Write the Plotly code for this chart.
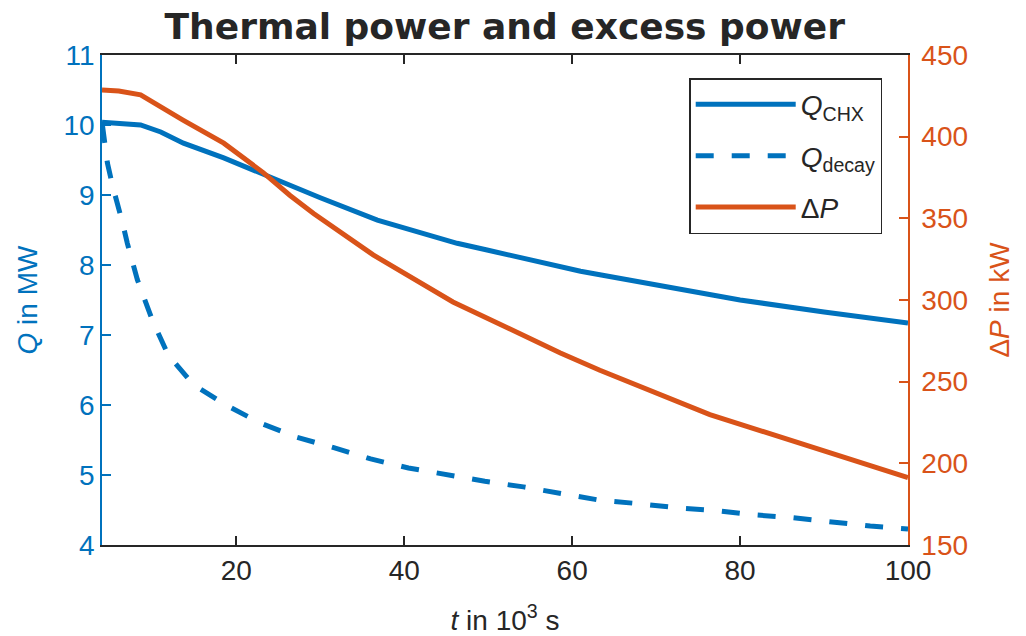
import plotly.graph_objects as go

# ---- data (t in 10^3 s) ----
t_chx = [4.0, 6.0, 8.6, 11.0, 13.7, 18.5, 23.2, 25.2, 30.0, 36.8, 40.0, 46.3,
         50.0, 58.9, 61.0, 63.3, 70.0, 76.4, 80.0, 90.0, 100.0]
q_chx = [10.04, 10.03, 10.0, 9.9, 9.74, 9.53, 9.29, 9.19, 8.96, 8.64, 8.53, 8.31,
         8.21, 7.96, 7.91, 7.86, 7.71, 7.57, 7.5, 7.33, 7.17]

t_dec = [4.05, 4.29, 4.64, 5.24, 5.83, 6.43, 7.02, 7.62, 8.21, 10.0, 11.9, 14.9,
         18.9, 22.9, 27.2, 31.6, 36.0, 40.5, 45.1, 49.6, 54.2, 58.8, 63.3, 67.9,
         72.6, 77.3, 81.8, 86.3, 90.9, 95.5, 100.0]
q_dec = [10.0, 9.74, 9.46, 9.14, 8.89, 8.61, 8.31, 8.04, 7.79, 7.21, 6.71, 6.29,
         5.99, 5.74, 5.54, 5.39, 5.23, 5.1, 5.0, 4.91, 4.83, 4.74, 4.64, 4.59,
         4.53, 4.49, 4.43, 4.39, 4.33, 4.27, 4.23]

t_dp = [4.0, 6.0, 8.6, 11.0, 13.7, 18.5, 23.2, 26.4, 29.2, 36.3, 45.8, 58.6,
        61.0, 63.3, 76.4, 81.2, 90.0, 100.0]
dp = [428.6, 428.0, 425.6, 418.0, 410.0, 396.0, 378.0, 364.0, 353.0, 327.6, 298.8,
      267.6, 262.0, 257.0, 229.8, 222.0, 207.6, 191.3]

x_ticks = [20, 40, 60, 80, 100]
yl_ticks = [4, 5, 6, 7, 8, 9, 10, 11]
yr_ticks = [150, 200, 250, 300, 350, 400, 450]

BLUE = "#0072BD"
ORANGE = "#D95319"
DARK = "#262626"
FONT = "Liberation Sans, Arial, Helvetica, sans-serif"

fig = go.Figure()
fig.add_trace(go.Scatter(x=t_chx, y=q_chx, mode="lines", name="<i>Q</i><sub>CHX</sub>",
                         legendgroup="a", line=dict(color=BLUE, width=5)))
fig.add_trace(go.Scatter(x=t_dec, y=q_dec, mode="lines", name="<i>Q</i><sub>decay</sub>",
                         legendgroup="b", line=dict(color=BLUE, width=5, dash="18px,18px")))
fig.add_trace(go.Scatter(x=t_dp, y=dp, mode="lines", name="Δ<i>P</i>", yaxis="y2",
                         legendgroup="c", line=dict(color=ORANGE, width=5)))

fig.update_layout(
    width=1026, height=636,
    margin=dict(l=102, r=118, t=55, b=91, autoexpand=False),
    paper_bgcolor="white", plot_bgcolor="white",
    font=dict(family=FONT, size=28, color=DARK),
    title=dict(text="<b>Thermal power and excess power</b>",
               font=dict(family="DejaVu Sans, sans-serif", size=36, color=DARK),
               x=0.492, xanchor="center", y=0.958, yanchor="middle"),
    xaxis=dict(range=[4, 100], tickvals=x_ticks, ticks="inside", ticklen=9,
               tickwidth=1.5, tickcolor=DARK, showline=True, linecolor=DARK,
               linewidth=1.5, mirror="ticks", showgrid=False, zeroline=False,
               automargin=False,
               tickfont=dict(size=28, color=DARK),
               title=dict(text="<i>t</i> in 10<sup>3</sup> s", font=dict(size=28, color=DARK),
                          standoff=26)),
    yaxis=dict(range=[4, 11], tickvals=yl_ticks, ticks="inside", ticklen=9,
               tickwidth=1.5, tickcolor=BLUE, showline=True, linecolor=BLUE,
               linewidth=1.5, showgrid=False, zeroline=False, automargin=False,
               tickfont=dict(size=28, color=BLUE),
               title=dict(text="<i>Q</i> in MW", font=dict(size=28, color=BLUE),
                          standoff=18)),
    yaxis2=dict(range=[150, 450], tickvals=yr_ticks, ticks="inside", ticklen=9,
                tickwidth=1.5, tickcolor=ORANGE, showline=True, linecolor=ORANGE,
                linewidth=1.5, showgrid=False, zeroline=False, overlaying="y",
                side="right", tickfont=dict(size=28, color=ORANGE),
                ticklabelstandoff=6, automargin=False,
                title=dict(text="Δ<i>P</i> in kW", font=dict(size=28, color=ORANGE),
                           standoff=22)),
    legend=dict(x=0.968, xanchor="right", y=0.953, yanchor="top",
                bgcolor="white", bordercolor=DARK, borderwidth=1.5,
                font=dict(size=28, color=DARK), itemwidth=100,
                tracegroupgap=12, entrywidth=200, entrywidthmode="pixels"),
    showlegend=True,
)

fig.write_html("out.html")
